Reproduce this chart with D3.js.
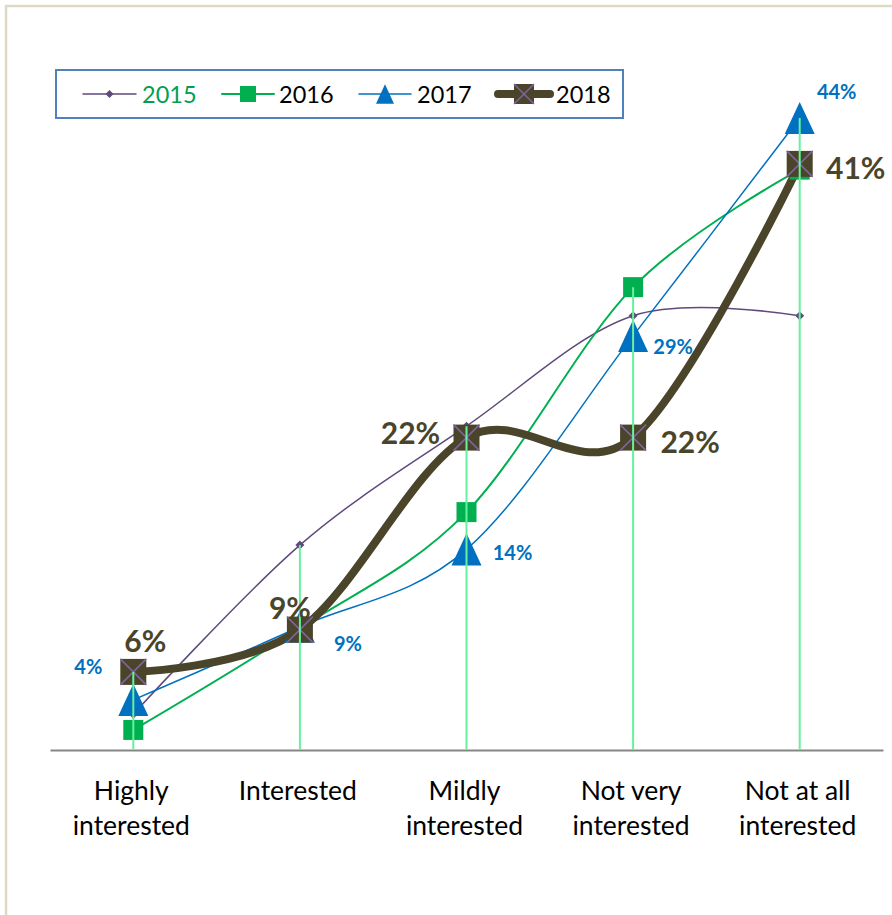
<!DOCTYPE html>
<html><head><meta charset="utf-8">
<script src="https://cdn.jsdelivr.net/npm/d3@7/dist/d3.min.js"></script>
<style>body{margin:0;background:#fff;} svg{display:block;}</style>
</head><body>
<svg id="c" width="892" height="915"></svg>
<script>
const categories = [["Highly","interested"],["Interested"],["Mildly","interested"],["Not very","interested"],["Not at all","interested"]];
const seriesNames = ["2015","2016","2017","2018"];
const v2015 = [2.5, 14.3, 22.6, 30.3, 30.3];
const v2016 = [1.4, 8.5, 16.6, 32.3, 40.5];
const v2017 = [3.5, 8.6, 14.0, 28.9, 44.1];
const v2018 = [5.45, 8.4, 21.8, 21.8, 40.9];
const labels2017 = ["4%","9%","14%","29%","44%"];
const labels2018 = ["6%","9%","22%","22%","41%"];
const yDomain = [0, 50];

// layout / style config
const off2017 = [[-45,-34],[48,16],[46,3],[40,10],[37,-27]];
const off2018 = [[12,-32],[-10,-23],[-56,-6],[57,3],[56,3]];
const styles = {
  "2015": {color:"#604a7b", width:1.5, marker:"diamond", size:9},
  "2016": {color:"#00b050", width:2, marker:"square", size:20},
  "2017": {color:"#0070c0", width:1.5, marker:"triangle", size:30},
  "2018": {color:"#4a452a", width:8, marker:"xsquare", size:26}
};
const FONT = "Lato, 'Open Sans', sans-serif";

const svg = d3.select("#c");
// outer chart border
svg.append("rect").attr("x",6).attr("y",6).attr("width",1000).attr("height",1000)
  .attr("fill","none").attr("stroke","#ddd9c3").attr("stroke-width",2.5);

const x = d3.scaleBand().domain(d3.range(categories.length)).range([50, 883]);
const cx = i => x(i) + x.bandwidth()/2;
const y = d3.scaleLinear().domain(yDomain).range([750, 750 - 14.33*50]);

// axis
const axis = svg.append("g").attr("transform","translate(0,750)")
  .call(d3.axisBottom(x).tickSize(0).tickFormat(""));
axis.select(".domain").attr("stroke","#868686").attr("stroke-width",2);

// category labels
categories.forEach((lines,i)=>{
  const t = svg.append("text").attr("x",cx(i)).attr("text-anchor","middle")
    .attr("font-family",FONT).attr("font-size",26.5).attr("fill","#000");
  lines.forEach((ln,j)=>t.append("tspan").attr("x",cx(i)-2).attr("y",800 + j*35).text(ln));
});

const data = {"2015":v2015,"2016":v2016,"2017":v2017,"2018":v2018};
const line = d3.line().x((d,i)=>cx(i)).y(d=>y(d)).curve(d3.curveCatmullRom.alpha(0));

function marker(g, type, size, color, px, py){
  const s = size/2;
  if(type==="diamond"){
    g.append("path").attr("d",`M${px},${py-s}L${px+s},${py}L${px},${py+s}L${px-s},${py}Z`).attr("fill",color);
  } else if(type==="square"){
    g.append("rect").attr("x",px-s).attr("y",py-s).attr("width",size).attr("height",size).attr("fill",color);
  } else if(type==="triangle"){
    const h = size*1.07;
    g.append("path").attr("d",`M${px},${py-h/2}L${px+s},${py+h/2}L${px-s},${py+h/2}Z`).attr("fill",color);
  } else if(type==="xsquare"){
    g.append("rect").attr("x",px-s).attr("y",py-s).attr("width",size).attr("height",size).attr("fill",color);
    g.append("path").attr("d",`M${px-s},${py-s}L${px+s},${py+s}M${px+s},${py-s}L${px-s},${py+s}`)
      .attr("stroke","#8064a2").attr("stroke-width",1.5);
  }
}

seriesNames.forEach(name=>{
  const st = styles[name];
  svg.append("path").datum(data[name]).attr("d",line).attr("fill","none")
    .attr("stroke",st.color).attr("stroke-width",st.width).attr("stroke-linecap","round");
});
seriesNames.forEach(name=>{
  const st = styles[name];
  const g = svg.append("g");
  data[name].forEach((v,i)=>marker(g, st.marker, st.size, st.color, cx(i), y(v)));
});

// drop lines (from highest point to axis)
categories.forEach((c,i)=>{
  const mx = d3.max(seriesNames, n=>data[n][i]);
  svg.append("line").attr("x1",cx(i)).attr("x2",cx(i)).attr("y1",y(mx)).attr("y2",y(0))
    .attr("stroke","#66f29c").attr("stroke-width",2);
});

// data labels
v2018.forEach((v,i)=>{
  svg.append("text").attr("x",cx(i)+off2018[i][0]).attr("y",y(v)+off2018[i][1])
    .attr("text-anchor","middle").attr("dominant-baseline","central")
    .attr("font-family",FONT).attr("font-weight","bold").attr("font-size",30)
    .attr("fill","#4a452a").text(labels2018[i]);
});
v2017.forEach((v,i)=>{
  svg.append("text").attr("x",cx(i)+off2017[i][0]).attr("y",y(v)+off2017[i][1])
    .attr("text-anchor","middle").attr("dominant-baseline","central")
    .attr("font-family",FONT).attr("font-weight","bold").attr("font-size",20)
    .attr("fill","#0070c0").text(labels2017[i]);
});

// legend
const lg = svg.append("g");
lg.append("rect").attr("x",56).attr("y",70).attr("width",567).attr("height",48)
  .attr("fill","#fff").attr("stroke","#4f81bd").attr("stroke-width",2);
const legItems = [
  {name:"2015", x0:83, x1:136, tx:142, tcolor:"#00a050"},
  {name:"2016", x0:222, x1:274, tx:279, tcolor:"#000"},
  {name:"2017", x0:359, x1:411, tx:417, tcolor:"#000"},
  {name:"2018", x0:498, x1:550, tx:556, tcolor:"#000"}
];
const ly = 94;
legItems.forEach(it=>{
  const st = styles[it.name];
  lg.append("line").attr("x1",it.x0).attr("x2",it.x1).attr("y1",ly).attr("y2",ly)
    .attr("stroke",st.color)
    .attr("stroke-width", it.name==="2018"?8:st.width).attr("stroke-linecap","round");
  const sz = it.name==="2015"?8: it.name==="2016"?16: it.name==="2017"?18: 20;
  marker(lg, st.marker, sz, st.color, (it.x0+it.x1)/2, ly);
  lg.append("text").attr("x",it.tx).attr("y",ly).attr("dominant-baseline","central")
    .attr("font-family",FONT).attr("font-size",23.5).attr("fill",it.tcolor).text(it.name);
});
</script>
</body></html>
